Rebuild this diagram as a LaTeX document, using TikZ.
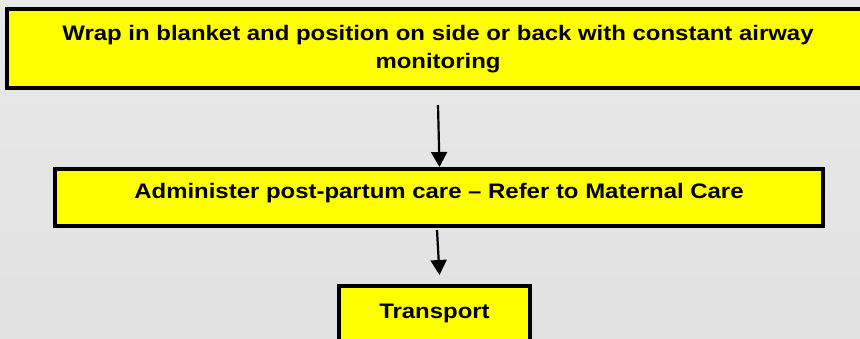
\documentclass[tikz,border=0pt]{standalone}
\usepackage{fontspec}
\usetikzlibrary{arrows.meta}
\newfontface\boxfont{Liberation Sans Bold}[FakeStretch=1.14]
\definecolor{bgtop}{HTML}{E9E9E9}
\definecolor{bgbot}{HTML}{E1E1E1}
\definecolor{boxyellow}{HTML}{FFFF00}
\tikzset{
  stepbox/.style={draw=black, line width=4pt, fill=boxyellow, inner sep=0pt,
    font=\boxfont\fontsize{21pt}{28.5pt}\selectfont, align=center},
  flowarrow/.style={line width=2.2pt, -{Triangle[width=16pt,length=15pt]}}
}
\begin{document}
\begin{tikzpicture}[x=1pt,y=-1pt]
  \useasboundingbox (0,0) rectangle (860,339);
  \shade[top color=bgtop, bottom color=bgbot] (0,0) rectangle (860,339);

  % first step: open on the right, it runs off the edge
  \node[stepbox, draw=none, outer sep=0pt, minimum width=900pt, minimum height=79pt]
    (wrap) at (457,49) 
    {\hspace*{-38pt}Wrap in blanket and position on side or back with constant airway\\
     \hspace*{-38pt}monitoring};
  \draw[line width=4pt, line join=miter]
    (wrap.north east) -- (wrap.north west) -- (wrap.south west) -- (wrap.south east);

  % second step
  \node[stepbox, minimum width=768pt, text height=15pt, text depth=13pt,
    minimum height=57pt] (care) at (439,197.5)
    {Administer post-partum care – Refer to Maternal Care};

  % last step: runs off the bottom edge
  \node[stepbox, anchor=north, minimum width=191pt, text height=33pt,
    text depth=45pt] (transport) at (434.5,284) {Transport};

  \coordinate (a1) at (438,105);
  \draw[flowarrow] (a1) -- ([xshift=0.5pt]care.north);
  \draw[flowarrow] ([xshift=-2pt,yshift=-2pt]care.south) -- ([xshift=5pt,yshift=9pt]transport.north);
\end{tikzpicture}
\end{document}
